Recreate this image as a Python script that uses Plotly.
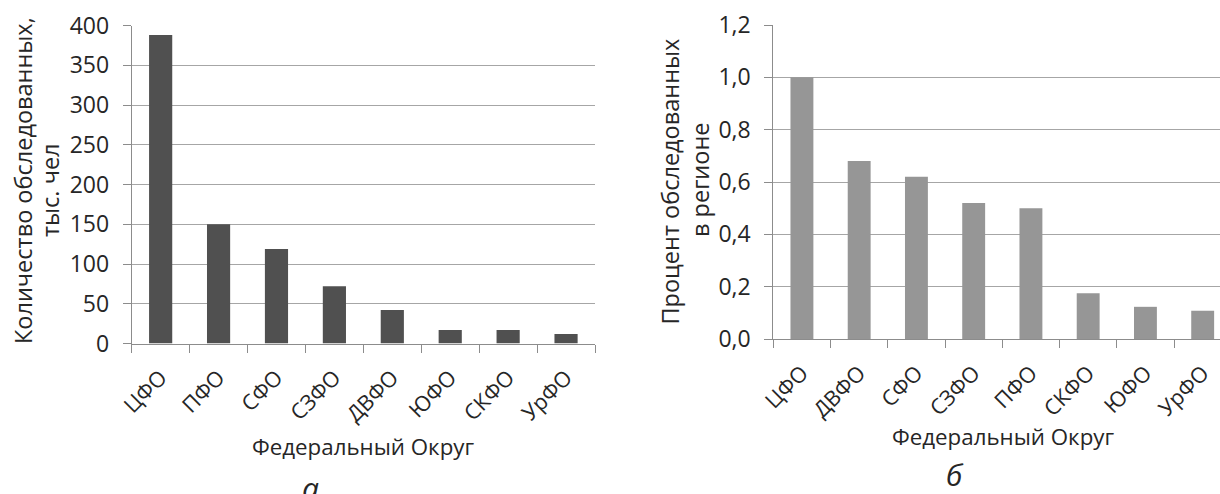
import plotly.graph_objects as go

# Survey counts by federal district (thousand people)
districts_a = ["ЦФО", "ПФО", "СФО", "СЗФО", "ДВФО", "ЮФО", "СКФО", "УрФО"]
counts_a = [388, 150, 119, 72, 42, 17, 17, 12]

# Share of surveyed population by federal district (%)
districts_b = ["ЦФО", "ДВФО", "СФО", "СЗФО", "ПФО", "СКФО", "ЮФО", "УрФО"]
share_b = [1.0, 0.68, 0.62, 0.52, 0.50, 0.175, 0.123, 0.108]

W, H = 1220, 494
FONT = "Open Sans"
TXT = "#262626"
GRID = "#a6a6a6"
AXIS = "#8c8c8c"


def px(x):
    return x / W


def py(y):
    return 1 - y / H


fig = go.Figure()
fig.add_trace(go.Bar(x=districts_a, y=counts_a, marker=dict(color="#505050", line=dict(width=0)),
                     xaxis="x", yaxis="y", showlegend=False))
fig.add_trace(go.Bar(x=districts_b, y=share_b, marker=dict(color="#969696", line=dict(width=0)),
                     xaxis="x2", yaxis="y2", showlegend=False))

common_x = dict(type="category", tickson="boundaries", ticks="outside", ticklen=8, tickcolor=AXIS,
                tickwidth=1, showline=True, linecolor=AXIS, linewidth=1, showgrid=False,
                tickangle=-45, tickfont=dict(family=FONT, size=21.5, color=TXT),
                ticklabelstandoff=12, automargin=False, fixedrange=True)
common_y = dict(ticks="outside", ticklen=8, tickcolor=AXIS, tickwidth=1, showline=True,
                linecolor=AXIS, linewidth=1, showgrid=True, gridcolor=GRID, gridwidth=1,
                zeroline=False, tickfont=dict(family=FONT, size=23, color=TXT),
                ticklabelstandoff=9, automargin=False)

fig.update_layout(
    width=W, height=H,
    margin=dict(l=0, r=0, t=0, b=0, autoexpand=False),
    paper_bgcolor="white", plot_bgcolor="white",
    separators=", ",
    bargap=0.6,
    xaxis=dict(domain=[px(131.7), px(595)], anchor="y", range=[-0.5, 7.5], **common_x),
    yaxis=dict(domain=[py(343.5), py(25.5)], anchor="x", range=[0, 400], dtick=50, **common_y),
    xaxis2=dict(domain=[px(773.3), 1.0], anchor="y2", range=[-0.5, -0.5 + (W - 773.3) / 57.25],
                **common_x),
    yaxis2=dict(domain=[py(339), py(25)], anchor="x2", range=[0, 1.2], dtick=0.2, tickformat=".1f",
                **common_y),
)

ytitle_font = dict(family=FONT, size=23.5, color=TXT)
xtitle_font = dict(family=FONT, size=22.3, color=TXT)
ann = [
    # y-axis titles, one annotation per line
    dict(x=px(23), y=py(181), text="Количество обследованных,", textangle=-90, font=ytitle_font),
    dict(x=px(50), y=py(190), text="тыс. чел", textangle=-90, font=ytitle_font),
    dict(x=px(669), y=py(181.5), text="Процент обследованных", textangle=-90, font=ytitle_font),
    dict(x=px(700), y=py(180), text="в регионе", textangle=-90, font=ytitle_font),
    # x-axis titles
    dict(x=px(363.4), y=py(446.7), text="Федеральный Округ", font=xtitle_font),
    dict(x=px(1002.5), y=py(436.7), text="Федеральный Округ", font=xtitle_font),
    # panel letters
    dict(x=px(310), y=py(487), text="<i>а</i>", font=dict(family=FONT, size=30, color=TXT)),
    dict(x=px(955), y=py(474), text="<i>б</i>", font=dict(family=FONT, size=30, color=TXT)),
]
fig.update_layout(annotations=[
    dict(xref="paper", yref="paper", showarrow=False, xanchor="center", yanchor="middle", **a)
    for a in ann
])

fig.write_html("out.html")
